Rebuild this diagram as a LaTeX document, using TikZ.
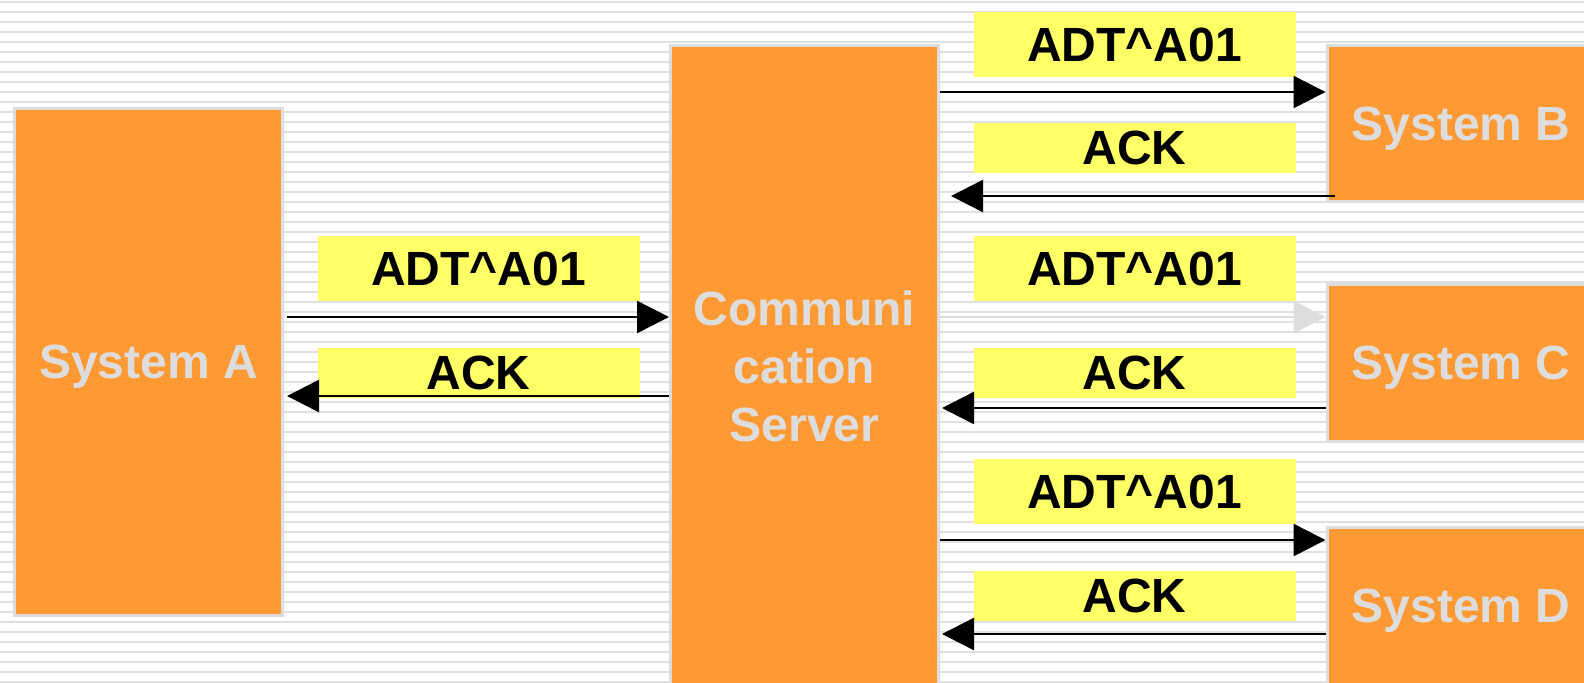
\documentclass[tikz,border=0pt]{standalone}
\usepackage{fontspec}
\setmainfont{Liberation Sans}
\usetikzlibrary{positioning, arrows.meta}
\definecolor{sysorange}{HTML}{FF9933}
\definecolor{msgyellow}{HTML}{FFFF66}
\definecolor{boxgray}{HTML}{DDDDDD}
\definecolor{stripegray}{HTML}{E0E0E0}

\begin{document}
\begin{tikzpicture}[x=0.5pt, y=-0.5pt,
            sys/.style ={rectangle, fill=sysorange, draw=boxgray, line width=1.5pt, text=boxgray,
            font=\fontsize{24}{29}\selectfont\bfseries, minimum width=134pt, inner sep=0pt,
            text depth=0pt, align=center},
            msg/.style ={rectangle, fill=msgyellow, minimum width=161pt, inner sep=0pt,
            font=\fontsize{24}{29}\selectfont\bfseries},
            adt/.style ={msg, minimum height=32.5pt},
            ack/.style ={msg, minimum height=25pt},
            arr/.style ={line width=1.25pt, -{Triangle[length=16pt, width=16pt]}}]

        \useasboundingbox (0,0) rectangle (1584,682);
        \clip (0,0) rectangle (1584,682);

        %fondo rayado
        \foreach \y in {2,12,...,682}
            \draw[stripegray, line width=1.25pt] (0,\y) -- (1584,\y);

        \node[sys, minimum height=253.5pt] (sysA) at (148.5, 362) {System A};
        \node[sys, minimum height=320.5pt] (comm) at (804.5, 366) {Communi\\cation\\Server};

        \node[sys, minimum height=78pt]   (sysB) at (1461, 123.5) {System B};
        \node[sys, minimum height=78.5pt] (sysC) at (1461, 363) {System C};
        \node[sys, minimum height=78.5pt] (sysD) at (1461, 606) {System D};

        \node[adt] (adtA) at (478.5, 268.5) {ADT\textasciicircum A01};
        \node[ack] (ackA) at (478.5, 372.5) {ACK};

        \node[adt] (adtB) at (1134.5, 44.5) {ADT\textasciicircum A01};
        \node[ack] (ackB) at (1134.5, 148) {ACK};
        \node[adt] (adtC) at (1134.5, 268.5) {ADT\textasciicircum A01};
        \node[ack] (ackC) at (1134.5, 372.5) {ACK};
        \node[adt] (adtD) at (1134.5, 491.5) {ADT\textasciicircum A01};
        \node[ack] (ackD) at (1134.5, 596) {ACK};

        %%--------------------------mensajes----------------------------

        \draw[arr, shorten <=1.5pt] (sysA.east |- 0,317) -- (comm.west |- 0,317);
        \draw[arr, shorten >=1.5pt] (comm.west |- 0,396) -- (sysA.east |- 0,396);

        \draw[arr] (comm.east |- 0,92) -- (sysB.west |- 0,92);
        \draw[arr, shorten >=5.5pt, shorten <=-4.5pt] (sysB.west |- 0,196) -- (comm.east |- 0,196);

        \draw[arr, boxgray] (comm.east |- 0,317) -- (sysC.west |- 0,317);
        \draw[arr, shorten >=1pt] (sysC.west |- 0,408) -- (comm.east |- 0,408);

        \draw[arr] (comm.east |- 0,540) -- (sysD.west |- 0,540);
        \draw[arr, shorten >=1pt] (sysD.west |- 0,634) -- (comm.east |- 0,634);

    \end{tikzpicture}
\end{document}
